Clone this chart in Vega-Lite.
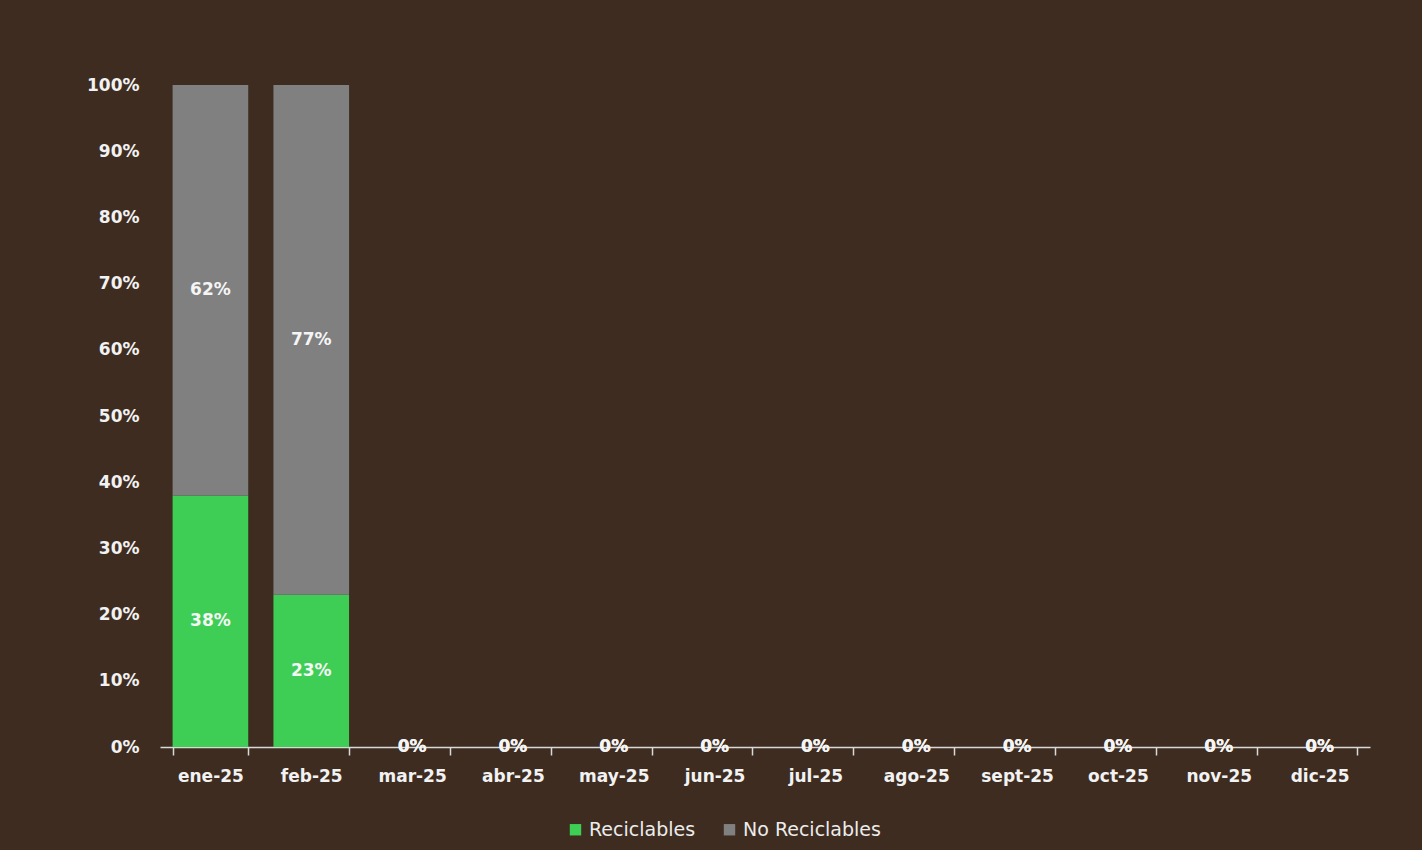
{
  "$schema": "https://vega.github.io/schema/vega-lite/v6.json",
  "width": 1210,
  "height": 662,
  "autosize": {"type": "none"},
  "padding": {"left": 160, "top": 85, "right": 52, "bottom": 103},
  "background": "#3e2c20",
  "config": {
    "view": {"stroke": null},
    "font": "DejaVu Sans"
  },
  "data": {
    "values": [
      {"mes": "ene-25", "categoria": "Reciclables", "orden": 1, "pct": 0.38},
      {"mes": "ene-25", "categoria": "No Reciclables", "orden": 2, "pct": 0.62},
      {"mes": "feb-25", "categoria": "Reciclables", "orden": 1, "pct": 0.23},
      {"mes": "feb-25", "categoria": "No Reciclables", "orden": 2, "pct": 0.77},
      {"mes": "mar-25", "categoria": "Reciclables", "orden": 1, "pct": 0},
      {"mes": "mar-25", "categoria": "No Reciclables", "orden": 2, "pct": 0},
      {"mes": "abr-25", "categoria": "Reciclables", "orden": 1, "pct": 0},
      {"mes": "abr-25", "categoria": "No Reciclables", "orden": 2, "pct": 0},
      {"mes": "may-25", "categoria": "Reciclables", "orden": 1, "pct": 0},
      {"mes": "may-25", "categoria": "No Reciclables", "orden": 2, "pct": 0},
      {"mes": "jun-25", "categoria": "Reciclables", "orden": 1, "pct": 0},
      {"mes": "jun-25", "categoria": "No Reciclables", "orden": 2, "pct": 0},
      {"mes": "jul-25", "categoria": "Reciclables", "orden": 1, "pct": 0},
      {"mes": "jul-25", "categoria": "No Reciclables", "orden": 2, "pct": 0},
      {"mes": "ago-25", "categoria": "Reciclables", "orden": 1, "pct": 0},
      {"mes": "ago-25", "categoria": "No Reciclables", "orden": 2, "pct": 0},
      {"mes": "sept-25", "categoria": "Reciclables", "orden": 1, "pct": 0},
      {"mes": "sept-25", "categoria": "No Reciclables", "orden": 2, "pct": 0},
      {"mes": "oct-25", "categoria": "Reciclables", "orden": 1, "pct": 0},
      {"mes": "oct-25", "categoria": "No Reciclables", "orden": 2, "pct": 0},
      {"mes": "nov-25", "categoria": "Reciclables", "orden": 1, "pct": 0},
      {"mes": "nov-25", "categoria": "No Reciclables", "orden": 2, "pct": 0},
      {"mes": "dic-25", "categoria": "Reciclables", "orden": 1, "pct": 0},
      {"mes": "dic-25", "categoria": "No Reciclables", "orden": 2, "pct": 0}
    ]
  },
  "transform": [
    {"stack": "pct", "groupby": ["mes"], "sort": [{"field": "orden", "order": "ascending"}], "as": ["y0", "y1"]}
  ],
  "encoding": {
    "x": {
      "field": "mes",
      "type": "nominal",
      "sort": null,
      "scale": {"paddingInner": 0.25, "paddingOuter": 0.125},
      "axis": {
        "title": null,
        "labelAngle": 0,
        "labelColor": "#f2f2f2",
        "labelFont": "DejaVu Sans",
        "labelFontSize": 17,
        "labelFontWeight": "bold",
        "labelPadding": 13,
        "labelOverlap": false,
        "domainColor": "#d9d9d9",
        "domainWidth": 1.5,
        "tickColor": "#d9d9d9",
        "tickSize": 8,
        "tickBand": "extent",
        "tickWidth": 1.5
      }
    }
  },
  "layer": [
    {
      "mark": {"type": "bar"},
      "encoding": {
        "y": {
          "field": "y0",
          "type": "quantitative",
          "scale": {"domain": [0, 1]},
          "axis": {
            "title": null,
            "format": ".0%",
            "values": [0, 0.1, 0.2, 0.3, 0.4, 0.5, 0.6, 0.7, 0.8, 0.9, 1],
            "labelColor": "#f2f2f2",
            "labelFont": "DejaVu Sans",
            "labelFontSize": 17,
            "labelFontWeight": "bold",
            "labelPadding": 21,
            "labelOverlap": false,
            "ticks": false,
            "domain": false,
            "grid": false
          }
        },
        "y2": {"field": "y1"},
        "color": {
          "field": "categoria",
          "type": "nominal",
          "scale": {"domain": ["Reciclables", "No Reciclables"], "range": ["#3fce55", "#808080"]},
          "legend": {
            "title": null,
            "orient": "none",
            "legendX": 406,
            "legendY": 735,
            "direction": "horizontal",
            "symbolType": "square",
            "symbolSize": 130,
            "symbolStrokeWidth": 0,
            "symbolOpacity": 1,
            "labelColor": "#ececec",
            "labelFont": "DejaVu Sans",
            "labelFontSize": 19,
            "labelOffset": 4,
            "columnPadding": 24
          }
        }
      }
    },
    {
      "transform": [
        {"fold": ["y0", "y1"], "as": ["extremo", "pos"]}
      ],
      "mark": {"type": "text", "color": "#f5f5f5", "font": "DejaVu Sans", "fontSize": 17, "fontWeight": "bold", "baseline": "middle"},
      "encoding": {
        "y": {"field": "pos", "aggregate": "mean", "type": "quantitative"},
        "detail": {"field": "categoria"},
        "text": {"field": "pct", "aggregate": "max", "type": "quantitative", "format": ".0%"}
      }
    }
  ]
}
